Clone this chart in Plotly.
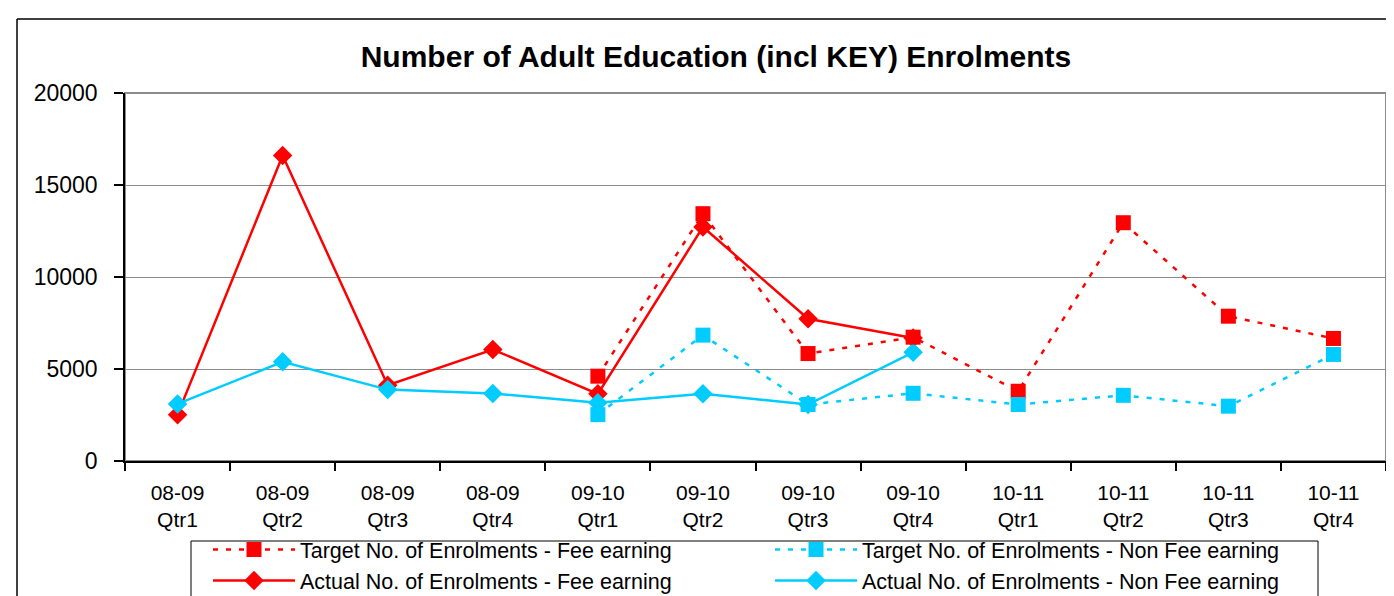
import plotly.graph_objects as go

categories = ["08-09<br>Qtr1", "08-09<br>Qtr2", "08-09<br>Qtr3", "08-09<br>Qtr4",
              "09-10<br>Qtr1", "09-10<br>Qtr2", "09-10<br>Qtr3", "09-10<br>Qtr4",
              "10-11<br>Qtr1", "10-11<br>Qtr2", "10-11<br>Qtr3", "10-11<br>Qtr4"]

target_fee = [None, None, None, None, 4610, 13440, 5840, 6730, 3790, 12950, 7870, 6660]
target_nonfee = [None, None, None, None, 2520, 6840, 3070, 3680, 3070, 3570, 2980, 5790]
actual_fee = [2520, 16600, 4120, 6060, 3650, 12720, 7730, 6690, None, None, None, None]
actual_nonfee = [3100, 5390, 3880, 3670, 3160, 3650, 3070, 5910, None, None, None, None]

y_ticks = [0, 5000, 10000, 15000, 20000]

RED = "#FF0000"
CYAN = "#00CCFF"
FONT = "Liberation Sans, Arial, sans-serif"

W, H = 1394, 596
L, R, T, B = 117, 1378, 85, 453
pw, ph = R - L, B - T

def px(x):
    return (x - L) / pw

def py(y):
    return (B - y) / ph

fig = go.Figure()

fig.add_trace(go.Scatter(
    x=categories, y=actual_fee, name="Actual No. of Enrolments - Fee earning",
    mode="lines+markers", line=dict(color=RED, width=2.5),
    marker=dict(symbol="diamond", size=15, color=RED), legendrank=3,
    connectgaps=False))
fig.add_trace(go.Scatter(
    x=categories, y=actual_nonfee, name="Actual No. of Enrolments - Non Fee earning",
    mode="lines+markers", line=dict(color=CYAN, width=2.5),
    marker=dict(symbol="diamond", size=15, color=CYAN), legendrank=4,
    connectgaps=False))
fig.add_trace(go.Scatter(
    x=categories, y=target_fee, name="Target No. of Enrolments - Fee earning",
    mode="lines+markers", line=dict(color=RED, width=2.5, dash="5px,8px"),
    marker=dict(symbol="square", size=15, color=RED), legendrank=1,
    connectgaps=False))
fig.add_trace(go.Scatter(
    x=categories, y=target_nonfee, name="Target No. of Enrolments - Non Fee earning",
    mode="lines+markers", line=dict(color=CYAN, width=2.5, dash="5px,8px"),
    marker=dict(symbol="square", size=15, color=CYAN), legendrank=2,
    connectgaps=False))

shapes = [
    # plot area border (gray)
    dict(type="rect", xref="paper", yref="paper", x0=0, x1=1, y0=0, y1=1,
         line=dict(color="#8c8c8c", width=2), layer="below"),
    # outer chart frame (black), extending past the visible window
    dict(type="line", xref="paper", yref="paper", x0=px(9), x1=px(1420), y0=py(11), y1=py(11),
         line=dict(color="black", width=1.5)),
    dict(type="line", xref="paper", yref="paper", x0=px(9), x1=px(9), y0=py(11), y1=py(620),
         line=dict(color="black", width=1.5)),
    # legend box (frame only; the legend itself is transparent)
    dict(type="rect", xref="paper", yref="paper", x0=px(183), x1=px(1310), y0=py(533), y1=py(595),
         line=dict(color="black", width=1), fillcolor="white", layer="below"),
]

fig.update_layout(
    width=W, height=H,
    margin=dict(l=L, r=W - R, t=T, b=H - B, pad=0, autoexpand=False),
    paper_bgcolor="white", plot_bgcolor="white",
    font=dict(family=FONT, size=22, color="black"),
    title=dict(text="<b>Number of Adult Education (incl KEY) Enrolments</b>",
               x=708 / W, xref="container", xanchor="center",
               y=1 - 48 / H, yref="container", yanchor="middle",
               font=dict(family=FONT, size=30, color="black")),
    showlegend=True,
    legend=dict(orientation="h", x=px(200), xanchor="left", y=py(521), yanchor="top",
                bgcolor="rgba(0,0,0,0)", borderwidth=0,
                font=dict(family=FONT, size=21.5, color="black"),
                entrywidth=465, entrywidthmode="pixels",
                traceorder="normal", itemwidth=82, tracegroupgap=0),
    shapes=shapes,
)

fig.update_xaxes(
    type="category", categoryorder="array", categoryarray=categories,
    showline=True, linecolor="black", linewidth=1.5,
    ticks="outside", tickson="boundaries", ticklen=8, tickcolor="black", tickwidth=1.5,
    showgrid=False, zeroline=False, ticklabelstandoff=12,
    tickfont=dict(family=FONT, size=21, color="black"),
    range=[-0.5, 11.5],
)
fig.update_yaxes(
    range=[0, 20000], tickvals=y_ticks, ticktext=[str(v) for v in y_ticks],
    showline=True, linecolor="black", linewidth=1.5,
    ticks="outside", ticklen=9, tickcolor="black", tickwidth=1.5,
    showgrid=True, gridcolor="#8c8c8c", gridwidth=1, zeroline=False,
    ticklabelstandoff=12,
    tickfont=dict(family=FONT, size=23, color="black"),
)

fig.write_html("out.html")
